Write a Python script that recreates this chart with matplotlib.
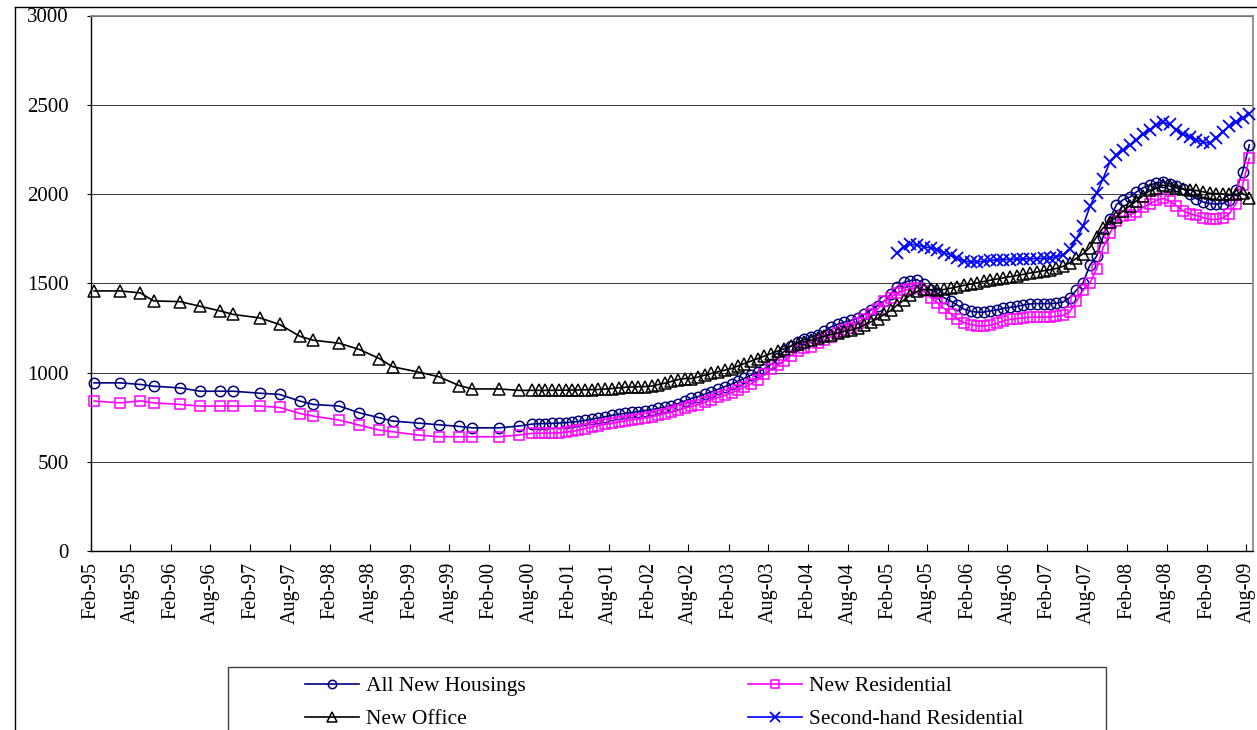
import numpy as np
import pandas as pd
import matplotlib
matplotlib.use("Agg")
import matplotlib.pyplot as plt
import matplotlib.dates as mdates
from matplotlib.patches import Rectangle
from matplotlib.lines import Line2D

plt.rcParams["font.family"] = ["Liberation Serif", "DejaVu Serif"]

# ---- observation dates -------------------------------------------------
# quarterly survey points up to mid-2000, monthly afterwards
early_dates = ["1995-02", "1995-06", "1995-09", "1995-11",
               "1996-03", "1996-06", "1996-09", "1996-11",
               "1997-03", "1997-06", "1997-09", "1997-11",
               "1998-03", "1998-06", "1998-09", "1998-11",
               "1999-03", "1999-06", "1999-09", "1999-11",
               "2000-03", "2000-06"]
monthly_start, monthly_end = "2000-08", "2009-08"
secondhand_start = "2005-03"

# ---- price index series ------------------------------------------------
all_new_early = [942, 942, 933, 923, 914, 895, 895, 895, 884, 877, 840, 821,
                 812, 774, 746, 728, 716, 707, 698, 690, 690, 700]
all_new_monthly = [711, 713, 714, 715, 717, 719,
                   722, 726, 732, 739, 745, 752, 760, 766, 771, 776, 781, 786,
                   792, 799, 806, 815, 826, 840, 855, 865, 878, 892, 906, 920,
                   935, 950, 968, 985, 1002, 1022, 1045, 1080, 1120, 1150, 1170, 1185,
                   1198, 1210, 1230, 1255, 1270, 1282, 1292, 1305, 1325, 1350, 1375, 1400,
                   1440, 1480, 1505, 1515, 1520, 1495, 1460, 1445, 1420, 1400, 1378, 1355,
                   1343, 1338, 1338, 1345, 1350, 1360, 1365, 1370, 1378, 1384, 1386, 1386,
                   1386, 1388, 1395, 1420, 1461, 1502, 1600, 1651, 1760, 1862, 1940, 1968,
                   1983, 2011, 2035, 2050, 2062, 2066, 2058, 2045, 2030, 2000, 1974, 1955,
                   1946, 1944, 1946, 1965, 2020, 2123, 2275]

new_res_early = [840, 830, 841, 830, 821, 812, 812, 812, 812, 804, 770, 756,
                 733, 705, 677, 668, 649, 640, 640, 640, 640, 650]
new_res_monthly = [659, 660, 660, 661, 662, 666,
                   670, 677, 686, 694, 703, 710, 715, 722, 729, 735, 740, 745,
                   752, 761, 770, 778, 788, 800, 810, 820, 833, 848, 860, 872,
                   886, 900, 918, 936, 960, 990, 1020, 1042, 1065, 1095, 1120, 1135,
                   1145, 1165, 1180, 1200, 1220, 1240, 1250, 1280, 1300, 1325, 1355, 1400,
                   1420, 1445, 1460, 1470, 1475, 1455, 1420, 1390, 1360, 1330, 1300, 1280,
                   1268, 1262, 1260, 1265, 1275, 1290, 1298, 1302, 1306, 1310, 1311, 1311,
                   1311, 1315, 1320, 1340, 1400, 1460, 1500, 1580, 1700, 1780, 1850, 1875,
                   1885, 1899, 1925, 1945, 1965, 1975, 1960, 1935, 1905, 1890, 1880, 1868,
                   1858, 1858, 1865, 1890, 1946, 2050, 2200]

new_office_early = [1457, 1457, 1446, 1401, 1397, 1371, 1345, 1325, 1306, 1269, 1203, 1181,
                    1164, 1129, 1078, 1032, 1002, 976, 927, 908, 908, 900]
new_office_monthly = [900, 900, 900, 900, 901, 901,
                      902, 902, 903, 904, 905, 907, 910, 914, 917, 919, 920, 921,
                      924, 932, 940, 950, 960, 966, 966, 975, 985, 995, 1004, 1013,
                      1022, 1036, 1050, 1064, 1078, 1092, 1106, 1120, 1134, 1148, 1162, 1172,
                      1181, 1192, 1203, 1212, 1222, 1230, 1237, 1250, 1265, 1284, 1302, 1325,
                      1349, 1378, 1405, 1435, 1455, 1465, 1465, 1462, 1465, 1472, 1480, 1488,
                      1495, 1502, 1510, 1517, 1524, 1530, 1536, 1543, 1550, 1557, 1563, 1570,
                      1576, 1583, 1595, 1615, 1640, 1665, 1700, 1760, 1810, 1843, 1871, 1905,
                      1935, 1960, 1990, 2020, 2035, 2048, 2045, 2035, 2028, 2022, 2020, 2012,
                      2004, 2002, 2000, 1998, 1998, 2005, 1976]

secondhand_monthly = [1672, 1705, 1718, 1715, 1705, 1698, 1688, 1672, 1658, 1640, 1625,
                      1618, 1620, 1622, 1628, 1630, 1632, 1633, 1635, 1636, 1637, 1638, 1640,
                      1642, 1648, 1660, 1690, 1750, 1820, 1930, 2005, 2086, 2180, 2216, 2244,
                      2272, 2300, 2335, 2360, 2385, 2403, 2390, 2360, 2335, 2320, 2305, 2290,
                      2285, 2315, 2350, 2380, 2405, 2425, 2448]

series_names = ["All New Housings", "New Residential", "New Office",
                "Second-hand Residential"]


def mid_month(periods):
    """Place each monthly observation in the middle of its month."""
    return periods.to_timestamp(how="start") + pd.Timedelta(days=14)


early_x = mid_month(pd.PeriodIndex(early_dates, freq="M"))
monthly_x = mid_month(pd.period_range(monthly_start, monthly_end, freq="M"))
second_x = mid_month(pd.period_range(secondhand_start, monthly_end, freq="M"))
full_x = early_x.append(monthly_x)

all_new = all_new_early + all_new_monthly
new_res = new_res_early + new_res_monthly
new_office = new_office_early + new_office_monthly

# ---- figure ------------------------------------------------------------
W, H = 1257, 730
fig = plt.figure(figsize=(W / 100, H / 100), dpi=100)
fig.patch.set_facecolor("white")
left, right, top, bottom = 91, 1253, 15.5, 551
ax = fig.add_axes([left / W, 1 - bottom / H, (right - left) / W, (bottom - top) / H])

styles = [
    dict(color="#000080", marker="o", ms=7.5, mew=1.1),
    dict(color="#FF00FF", marker="s", ms=7.0, mew=1.1),
    dict(color="#000000", marker="^", ms=8.5, mew=1.1),
    dict(color="#0000FF", marker="x", ms=9.0, mew=1.3),
]
xs = [full_x, full_x, full_x, second_x]
ys = [all_new, new_res, new_office, secondhand_monthly]
handles = []
for i, (name, x, y, st) in enumerate(zip(series_names, xs, ys, styles)):
    h, = ax.plot(x, y, color=st["color"], lw=1.2, marker=st["marker"],
                 ms=st["ms"], mew=st["mew"], mfc="none", mec=st["color"],
                 label=name, zorder=3 + i, clip_on=False)
    handles.append(h)

ax.set_xlim(pd.Timestamp("1995-02-01"), pd.Timestamp("2009-09-01"))
ax.set_ylim(0, 3000)
ax.set_yticks(np.arange(0, 3001, 500))
ax.yaxis.grid(True, color="#404040", lw=0.75)
ax.set_axisbelow(True)

ax.xaxis.set_major_locator(mdates.MonthLocator(bymonth=[2, 8]))
ax.xaxis.set_major_formatter(mdates.DateFormatter("%b-%y"))
ax.tick_params(axis="x", direction="in", length=5, width=0.8, pad=8,
               labelsize=14.5, labelrotation=90)
ax.tick_params(axis="y", direction="out", length=3, width=0.8, pad=13,
               labelsize=15)

for s in ["left", "bottom"]:
    ax.spines[s].set_color("black")
    ax.spines[s].set_linewidth(1.0)
for s in ["top", "right"]:
    ax.spines[s].set_color("#808080")
    ax.spines[s].set_linewidth(1.2)

# ---- legend: two columns, boxed ----------------------------------------
leg_kw = dict(frameon=False, fontsize=15.5, handlelength=2.5, handletextpad=0.35,
              labelspacing=0.62, borderpad=0, borderaxespad=0, markerscale=0.8,
              loc="upper left")
fig.legend([handles[0], handles[2]], [series_names[0], series_names[2]],
           bbox_to_anchor=(305 / W, 1 - 676 / H), **leg_kw)
fig.legend([handles[1], handles[3]], [series_names[1], series_names[3]],
           bbox_to_anchor=(748 / W, 1 - 676 / H), **leg_kw)
fig.add_artist(Rectangle((228 / W, -0.05), (1106 - 228) / W, (730 - 667) / H + 0.05,
                         transform=fig.transFigure, fill=False,
                         edgecolor="#404040", lw=1.0, zorder=5))

# ---- chart area frame --------------------------------------------------
fig.add_artist(Rectangle((0, 1 - 6.5 / H), 1, 6.5 / H, transform=fig.transFigure,
                         facecolor="white", edgecolor="none", zorder=8))
fig.add_artist(Line2D([14.5 / W, 14.5 / W], [0, 1 - 6.5 / H],
                      transform=fig.transFigure, color="black", lw=1.0, zorder=9))
fig.add_artist(Line2D([14.5 / W, 1], [1 - 6.5 / H, 1 - 6.5 / H],
                      transform=fig.transFigure, color="black", lw=1.0, zorder=9))

fig.savefig("out.png", dpi=100)
